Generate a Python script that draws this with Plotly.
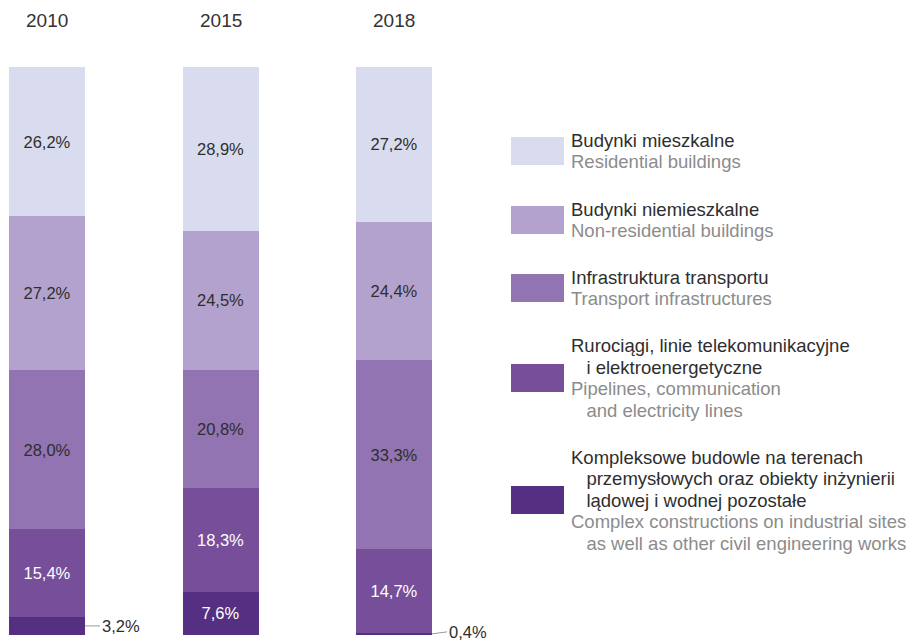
import plotly.graph_objects as go

W, H = 913, 640

# DATA
years = ["2010", "2015", "2018"]
residential = [26.2, 28.9, 27.2]
non_residential = [27.2, 24.5, 24.4]
transport = [28.0, 20.8, 33.3]
pipelines = [15.4, 18.3, 14.7]
complex_works = [3.2, 7.6, 0.4]

labels_pl = [
    ["Budynki mieszkalne"],
    ["Budynki niemieszkalne"],
    ["Infrastruktura transportu"],
    ["Rurociągi, linie telekomunikacyjne", "   i elektroenergetyczne"],
    ["Kompleksowe budowle na terenach",
     "   przemysłowych oraz obiekty inżynierii",
     "   lądowej i wodnej pozostałe"],
]
labels_en = [
    ["Residential buildings"],
    ["Non-residential buildings"],
    ["Transport infrastructures"],
    ["Pipelines, communication", "   and electricity lines"],
    ["Complex constructions on industrial sites",
     "   as well as other civil engineering works"],
]

# VISUAL SETTINGS
COLORS = ["#d9dbef", "#b3a2cd", "#9174b1", "#764e9a", "#552f82"]
TEXT_COLORS = ["#2e2e2e", "#2e2e2e", "#2e2e2e", "white", "white"]
DARK = "#2e2e2e"
GREY = "#8c8c8c"
FONT = "Liberation Sans, Arial, sans-serif"
BAR_PX = 76
STEP_PX = 173.5
FIRST_PX = 47
SMALL = 5.0  # segments below this get an outside label
LINE_PX = 21.5


def fmt(v):
    return f"{v:.1f}".replace(".", ",") + "%"


series = [residential, non_residential, transport, pipelines, complex_works]

fig = go.Figure()

# stacked bottom-up: last category first
for idx in reversed(range(len(series))):
    vals = series[idx]
    fig.add_trace(go.Bar(
        x=years,
        y=vals,
        marker=dict(color=COLORS[idx], line=dict(width=0)),
        width=BAR_PX / STEP_PX,
        text=[fmt(v) if v >= SMALL else "" for v in vals],
        textposition="inside",
        insidetextanchor="middle",
        textangle=0,
        constraintext="none",
        textfont=dict(color=TEXT_COLORS[idx], size=16.5, family=FONT),
        hoverinfo="skip",
        showlegend=False,
    ))

annotations = []

# year headers (category axis -> annotation x is the category index)
for i, yr in enumerate(years):
    annotations.append(dict(
        x=i, y=(H - 20) / H, xref="x", yref="paper",
        text=yr, showarrow=False, yanchor="middle",
        font=dict(size=19, color="#333333", family=FONT),
    ))

# leader-line labels for tiny segments
for i, v in enumerate(complex_works):
    if v < SMALL:
        annotations.append(dict(
            x=i, y=v / 2, xref="x", yref="y", xshift=BAR_PX / 2,
            text=fmt(v), showarrow=True, arrowhead=0, arrowwidth=1,
            arrowcolor="#9a9a9a", ax=15, ay=-2 if v < 1 else 0, xanchor="left",
            font=dict(size=16.5, color=DARK, family=FONT),
        ))

# legend (drawn by hand: large swatches, two-language labels, one line each)
swatch_centers = [151, 220, 288, 378, 500]
shapes = []
for i in range(len(labels_pl)):
    yc = swatch_centers[i]
    shapes.append(dict(
        type="rect", xref="paper", yref="paper",
        x0=511 / W, x1=564 / W,
        y0=(H - yc - 14) / H, y1=(H - yc + 14) / H,
        fillcolor=COLORS[i], line=dict(width=0),
    ))
    lines = [(t, DARK) for t in labels_pl[i]] + [(t, GREY) for t in labels_en[i]]
    n = len(lines)
    for k, (txt, col) in enumerate(lines):
        ypx = yc + (k - (n - 1) / 2) * LINE_PX
        annotations.append(dict(
            x=569 / W, y=(H - ypx) / H, xref="paper", yref="paper",
            xanchor="left", yanchor="middle", align="left", showarrow=False,
            text=txt.replace(" " * 3, "\u00a0" * 3),
            font=dict(size=18.5, color=col, family=FONT),
        ))

fig.update_layout(
    width=W, height=H,
    barmode="stack",
    plot_bgcolor="white", paper_bgcolor="white",
    margin=dict(l=0, r=0, t=0, b=0),
    xaxis=dict(
        type="category", domain=[0, 1],
        range=[-FIRST_PX / STEP_PX, (W - FIRST_PX) / STEP_PX],
        showticklabels=False, showgrid=False, zeroline=False, showline=False,
    ),
    yaxis=dict(
        domain=[5 / H, 1 - 67 / H], range=[0, 100.05],
        showticklabels=False, showgrid=False, zeroline=False, showline=False,
    ),
    annotations=annotations,
    shapes=shapes,
    font=dict(family=FONT),
)

fig.write_html(
    "out.html",
    config={"displayModeBar": False},
    post_script="document.body.style.margin='0';",
)
